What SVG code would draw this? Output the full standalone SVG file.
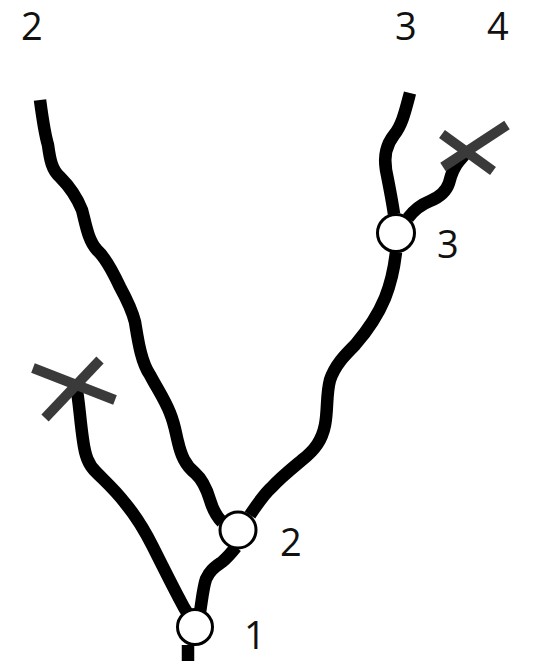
<svg xmlns="http://www.w3.org/2000/svg" width="533" height="661" viewBox="0 0 533 661">
<style>
.br{fill:none;stroke:#000;stroke-width:12.5;stroke-linecap:butt;stroke-linejoin:round}
.x{stroke:#3a3a3a;stroke-width:10;stroke-linecap:butt}
.nd{fill:#fff;stroke:#000;stroke-width:3}
.lb{font-family:"Open Sans","DejaVu Sans",sans-serif;font-size:38px;fill:#111}
</style>
<rect width="533" height="661" fill="#fff"/>
<g id="connectors">
<path class="br" d="M188,661 L188,645"/>
<path class="br" d="M40,100 C42,115 45,135 48,145 C50,160 52,170 60,177 C68,185 76,195 82,210 C86,225 88,240 97,250 C106,258 113,272 120,287 C126,298 132,310 135,322 C138,340 141,362 150,375 C158,390 165,400 170,413 C175,425 176,435 178,442 C181,455 185,465 195,473 C203,480 207,490 210,500 C213,510 216,516 222,522"/>
<path class="br" d="M76,385 C79,400 80,420 83,440 C85,455 88,465 97,473 C107,483 115,490 125,503 C135,515 143,527 153,547 C162,565 172,585 180,600 C183,606 186,611 188,614"/>
<path class="br" d="M200,612 C202,600 203,588 206,579 C210,570 215,567 222,562 C228,557 232,552 236,547"/>
<path class="br" d="M250,515 C258,503 264,494 272,487 C280,478 290,470 302,460 C315,450 322,440 325,425 C328,410 326,395 330,380 C335,365 345,355 355,345 C368,330 378,315 385,298 C391,283 394,270 396,252"/>
<path class="br" d="M394,214 C392,200 389,185 386,170 C384,158 386,145 394,135 C402,125 405,112 410,93"/>
<path class="br" d="M408,218 C414,210 420,205 430,201 C440,197 446,192 449,183 C451,175 453,168 460,160 C463,157 465,154 467,151"/>
</g>
<g id="x1"><line class="x" x1="33" y1="368" x2="115" y2="400"/><line class="x" x1="45" y1="418" x2="100" y2="360"/></g>
<g id="x2"><line class="x" x1="442" y1="134" x2="493" y2="171"/><line class="x" x1="443" y1="167" x2="507" y2="125"/></g>
<g id="node1"><circle class="nd" cx="195" cy="627" r="17.5"/><text class="lb" x="244" y="649">1</text></g>
<g id="node2"><circle class="nd" cx="238" cy="530" r="18"/><text class="lb" x="280" y="556">2</text></g>
<g id="node3"><circle class="nd" cx="396" cy="233" r="18.5"/><text class="lb" x="437" y="258">3</text></g>
<g id="top-labels">
<text class="lb" x="21" y="40">2</text>
<text class="lb" x="395" y="40">3</text>
<text class="lb" x="487" y="40">4</text>
</g>
</svg>
